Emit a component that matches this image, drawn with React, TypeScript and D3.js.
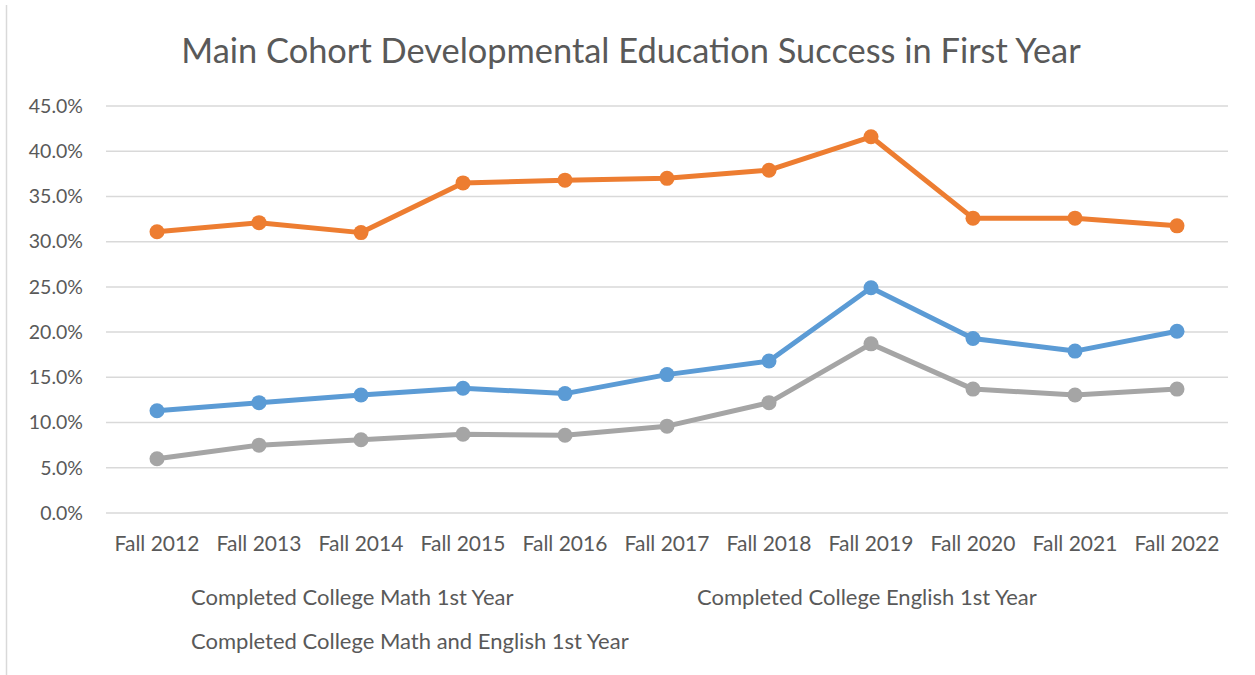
import * as d3 from "d3";

const years = ["Fall 2012", "Fall 2013", "Fall 2014", "Fall 2015", "Fall 2016", "Fall 2017", "Fall 2018", "Fall 2019", "Fall 2020", "Fall 2021", "Fall 2022"];
const mathVals = [11.3, 12.2, 13.05, 13.8, 13.2, 15.3, 16.8, 24.9, 19.3, 17.9, 20.1];
const englishVals = [31.1, 32.1, 31.0, 36.5, 36.8, 37.0, 37.9, 41.6, 32.6, 32.6, 31.75];
const bothVals = [6.0, 7.5, 8.1, 8.7, 8.6, 9.6, 12.2, 18.7, 13.7, 13.05, 13.7];
const yTicks = [0, 5, 10, 15, 20, 25, 30, 35, 40, 45];

const series = [
  { name: "Completed College Math 1st Year", values: mathVals, color: "#5B9BD5" },
  { name: "Completed College English 1st Year", values: englishVals, color: "#ED7D31" },
  { name: "Completed College Math and English 1st Year", values: bothVals, color: "#A5A5A5" },
];

const W = 1255;
const H = 675;
const plot = { left: 106, right: 1228, top: 106, bottom: 513 };
const font = "Lato, 'Open Sans', sans-serif";
const textColor = "#595959";

export default function App() {
  const x = d3.scalePoint<string>()
    .domain(years)
    .range([plot.left, plot.right])
    .padding(0.5);
  const y = d3.scaleLinear()
    .domain([0, 45])
    .range([plot.bottom, plot.top]);

  const line = d3.line<number>()
    .x((_, i) => x(years[i]) as number)
    .y(d => y(d));

  // legend slots (text only, as in the source)
  const legendPos = [
    { x: 191, y: 597 },
    { x: 697, y: 597 },
    { x: 191, y: 641 },
  ];

  return (
    <svg width={W} height={H} style={{ position: "absolute", left: 0, top: 0, background: "#fff" }}>
      <rect x={0} y={0} width={W} height={H} fill="#fff" />
      <line x1={6.5} x2={6.5} y1={5} y2={H} stroke="#D9D9D9" strokeWidth={1.5} />
      <text x={631} y={63} textAnchor="middle" fontFamily={font} fontSize={34.4} fill={textColor}>
        Main Cohort Developmental Education Success in First Year
      </text>

      {yTicks.map(t => (
        <g key={t}>
          <line x1={plot.left} x2={plot.right} y1={y(t)} y2={y(t)} stroke="#D9D9D9" strokeWidth={1.5} />
          <text x={83} y={y(t)} dy="0.35em" textAnchor="end" fontFamily={font} fontSize={19.5} fill={textColor}>
            {t.toFixed(1)}%
          </text>
        </g>
      ))}

      {years.map(yr => (
        <text key={yr} x={x(yr)} y={551} textAnchor="middle" fontFamily={font} fontSize={21} fill={textColor}>
          {yr}
        </text>
      ))}

      {series.map(s => (
        <g key={s.name}>
          <path d={line(s.values) || ""} fill="none" stroke={s.color} strokeWidth={5} strokeLinejoin="round" />
          {s.values.map((v, i) => (
            <circle key={i} cx={x(years[i])} cy={y(v)} r={7.5} fill={s.color} />
          ))}
        </g>
      ))}

      {series.map((s, i) => (
        <text key={s.name} x={legendPos[i].x} y={legendPos[i].y} dy="0.35em" fontFamily={font} fontSize={22} fill={textColor}>
          {s.name}
        </text>
      ))}
    </svg>
  );
}
